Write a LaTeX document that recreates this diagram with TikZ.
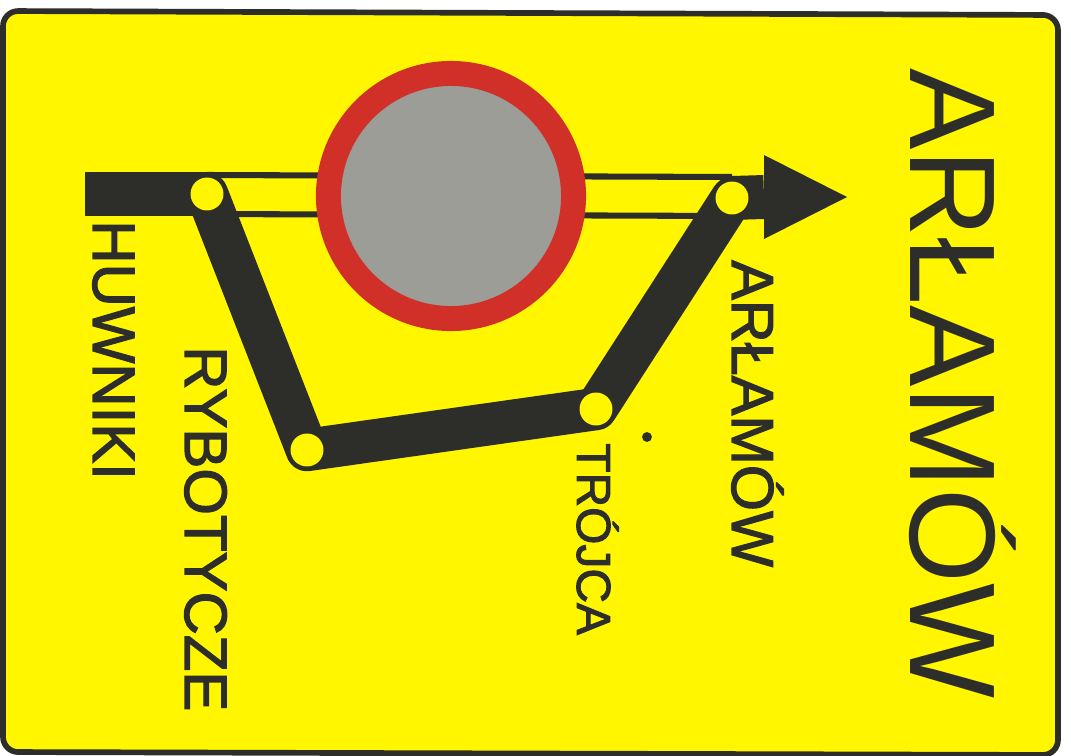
\documentclass[tikz,border=0pt]{standalone}
\usepackage{fontspec}
\setmainfont{Liberation Sans}
\newfontfamily\signfont{Liberation Sans}[FakeBold=2]
\usetikzlibrary{backgrounds}
\definecolor{signyellow}{RGB}{255,246,0}
\definecolor{signdark}{RGB}{45,45,42}
\definecolor{signred}{RGB}{208,48,40}
\definecolor{signgrey}{RGB}{155,157,150}
\tikzset{
  road/.style={draw=signdark, line width=1.12cm, line join=round, line cap=round},
  stem/.style={draw=signdark, line width=1.16cm},
  stopdot/.style={circle, fill=signyellow, minimum size=0.87cm, inner sep=0pt},
  rail/.style={draw=signdark, line width=0.16cm},
  townlabel/.style={rotate=-90, anchor=base west, text=signdark, inner sep=0pt},
}
\begin{document}
\begin{tikzpicture}[x=0.0264cm, y=-0.0264cm]
    \useasboundingbox (0,0) rectangle (1071,756);

    % Stops
    \node[stopdot] (huwniki) at (207,194) {};
    \node[stopdot] (rybotycze) at (307,450) {};
    \node[stopdot] (trojca) at (596,409) {};
    \node[stopdot] (arlamow) at (732,198) {};

    % No entry disc
    \node[circle, draw=signred, fill=signgrey, line width=0.66cm, minimum size=6.47cm, inner sep=0pt] (disc) at (451,196) {};

    % Labels
    \node[townlabel, font=\signfont\fontsize{45pt}{45pt}\selectfont] (lhuwniki) at (93,220) {HUWNIKI};
    \node[townlabel, font=\signfont\fontsize{45pt}{45pt}\selectfont] (lrybotycze) at (185,346) {RYBOTYCZE};
    \node[townlabel, font=\signfont\fontsize{36pt}{36pt}\selectfont] (ltrojca) at (577,443) {TRÓJCA};
    \node[townlabel, font=\signfont\fontsize{44.6pt}{45pt}\selectfont] (larlamow) at (732,260) {ARŁAMÓW};
    \node[townlabel, font=\fontsize{91.6pt}{92pt}\selectfont] (ltitle) at (910,68) {ARŁAMÓW};

    % Arrow ends
    \coordinate (start) at (85,194);
    \coordinate (head) at (764,197);
    \coordinate (tip) at (847,197);

    \begin{scope}[on background layer]
        % Background and sign
        \fill[white] (0,0) rectangle (1071,756);
        \draw[fill=signyellow, draw=signdark, line width=0.15cm, rounded corners=0.4cm] (3,11) -- (1058,15) -- (1058,755) -- (3,752) -- cycle;

        % Route
        \draw[rail] (207,175) -- (732,177);
        \draw[rail] (207,214) -- (732,216);
        \draw[stem] (start) -- (huwniki.center);
        \draw[stem] (arlamow.center) -- (head);
        \fill[signdark] (tip) -- (764,155) -- (764,239) -- cycle;
        \draw[road] (huwniki.center) -- (rybotycze.center) -- (trojca.center) -- (arlamow.center);

        % Speck
        \fill[signdark] (647,437) circle (0.13cm);
    \end{scope}
\end{tikzpicture}
\end{document}
